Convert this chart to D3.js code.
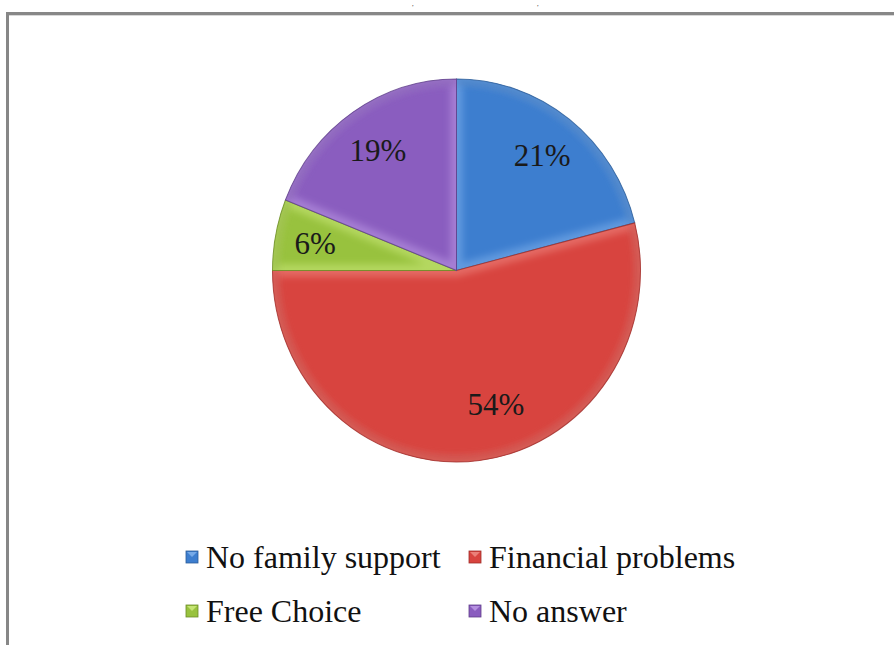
<!DOCTYPE html>
<html>
<head>
<meta charset="utf-8">
<script src="https://cdn.jsdelivr.net/npm/d3@7/dist/d3.min.js"></script>
<style>
  html, body { margin: 0; padding: 0; background: #ffffff; }
  svg { display: block; }
  text { font-family: "Liberation Serif", "Times New Roman", "DejaVu Serif", serif; }
</style>
</head>
<body>
<svg id="chart" width="894" height="645"></svg>
<script>
// Reasons given (share of respondents, %)
const categories = ["No family support", "Financial problems", "Free Choice", "No answer"];
const values = [21, 54, 6, 19];
const labels = ["21%", "54%", "6%", "19%"];
const colors = ["#3d7ecf", "#d8443f", "#98c23e", "#8a5dbf"];
const edgeColors = ["#2b5c98", "#a02e2a", "#6b8c26", "#5f3e8a"];
const lightColors = ["#8fbdf2", "#f39a93", "#d8f28a", "#c7a6ee"];

const svg = d3.select("#chart");
const W = 894, H = 645;

// Frame around the plot area
svg.append("rect")
  .attr("x", 7.5).attr("y", 13.5)
  .attr("width", W + 20).attr("height", H + 20)
  .attr("fill", "none")
  .attr("stroke", "#878787")
  .attr("stroke-width", 3);
svg.append("line")
  .attr("x1", 9).attr("x2", W).attr("y1", 15.5).attr("y2", 15.5)
  .attr("stroke", "#d8d8d8").attr("stroke-width", 1);

// Punctuation of the title line sitting above the frame
svg.selectAll("text.title-tail")
  .data([412, 537])
  .join("text")
  .attr("class", "title-tail")
  .attr("x", d => d).attr("y", 6)
  .attr("font-size", 6.5)
  .attr("fill", "#222")
  .text(",");

const defs = svg.append("defs");
defs.append("filter").attr("id", "soft")
  .attr("x", "-20%").attr("y", "-20%").attr("width", "140%").attr("height", "140%")
  .append("feGaussianBlur").attr("stdDeviation", 3.5);

const cx = 456.5, cy = 270.5, r = 184, ry = 191.5;

const pie = d3.pie().sort(null).value(d => d.value)
  .startAngle(0).endAngle(2 * Math.PI);
const data = categories.map((c, i) => ({ name: c, value: values[i], i }));
const arcs = pie(data);
const arc = d3.arc().innerRadius(0).outerRadius(r);
const rimArc = d3.arc().innerRadius(r - 5).outerRadius(r);

const g = svg.append("g")
  .attr("transform", `translate(${cx},${cy}) scale(1,${ry / r})`);

arcs.forEach((a, k) => {
  defs.append("clipPath").attr("id", "clip" + k)
    .append("path").attr("d", arc(a));
});

const slices = g.selectAll("g.slice").data(arcs).join("g").attr("class", "slice");

slices.append("path")
  .attr("d", arc)
  .attr("fill", d => colors[d.data.i]);

// Bevel highlight along slice edges
slices.append("path")
  .attr("d", arc)
  .attr("clip-path", (d, k) => `url(#clip${k})`)
  .attr("fill", "none")
  .attr("stroke", d => lightColors[d.data.i])
  .attr("stroke-width", 12)
  .attr("stroke-opacity", 0.45)
  .attr("filter", "url(#soft)");

// Darker rim on the outer edge
slices.append("path")
  .attr("d", rimArc)
  .attr("fill", d => edgeColors[d.data.i])
  .attr("opacity", 0.4)
  .attr("filter", "url(#soft)")
  .attr("clip-path", (d, k) => `url(#clip${k})`);

slices.append("path")
  .attr("d", arc)
  .attr("fill", "none")
  .attr("stroke", d => edgeColors[d.data.i])
  .attr("stroke-width", 1)
  .attr("stroke-opacity", 0.8);

// Percentage labels
const labelArc = d3.arc().innerRadius(r * 0.76).outerRadius(r * 0.76);
const labelNudge = [[0, 0], [22, -10], [-4, 0], [0, 0]];
svg.selectAll("text.pct")
  .data(arcs)
  .join("text")
  .attr("class", "pct")
  .attr("x", d => cx + labelArc.centroid(d)[0] + labelNudge[d.data.i][0])
  .attr("y", d => cy + labelArc.centroid(d)[1] * ry / r + labelNudge[d.data.i][1])
  .attr("text-anchor", "middle")
  .attr("dominant-baseline", "central")
  .attr("font-size", 31)
  .attr("fill", "#1a1a1a")
  .text(d => labels[d.data.i]);

// Legend (two rows, two columns)
const legendX = [186, 469];
const legendY = [557, 611];
const legend = svg.selectAll("g.legend")
  .data(categories)
  .join("g")
  .attr("class", "legend")
  .attr("transform", (d, i) => `translate(${legendX[i % 2]},${legendY[Math.floor(i / 2)]})`);

legend.append("rect")
  .attr("x", 0).attr("y", -6).attr("width", 12).attr("height", 12)
  .attr("fill", (d, i) => colors[i])
  .attr("stroke", (d, i) => edgeColors[i])
  .attr("stroke-width", 0.8);
legend.append("path")
  .attr("d", "M1,-5 L6,0 L11,-5 Z")
  .attr("fill", (d, i) => lightColors[i])
  .attr("opacity", 0.7);

legend.append("text")
  .attr("x", 20).attr("y", 0)
  .attr("dominant-baseline", "central")
  .attr("font-size", 32)
  .attr("fill", "#111")
  .text(d => d);
</script>
</body>
</html>
